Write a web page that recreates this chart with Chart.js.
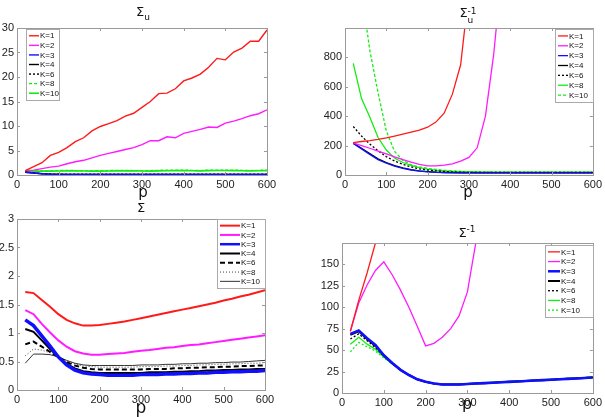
<!DOCTYPE html>
<html>
<head>
<meta charset="utf-8">
<script src="https://cdn.jsdelivr.net/npm/chart.js@4/dist/chart.umd.min.js"></script>
<style>
  body { margin: 0; background: #fff; width: 605px; height: 417px; overflow: hidden; position: relative; font-family: "Liberation Sans", Arial, sans-serif; }
  canvas { position: absolute; }
  .t { position: absolute; font-family: "DejaVu Sans", sans-serif; color: #111; transform: translateX(-50%); white-space: nowrap; line-height: 1; }
  .t sub, .t sup { font-size: 9px; }
  .stk { display: inline-block; vertical-align: -6px; font-size: 9px; line-height: 9px; text-align: left; }
</style>
</head>
<body>
<canvas id="c1" width="300" height="200" style="left:0;top:0"></canvas>
<canvas id="c2" width="305" height="200" style="left:300px;top:0"></canvas>
<canvas id="c3" width="300" height="217" style="left:0;top:200px"></canvas>
<canvas id="c4" width="305" height="217" style="left:300px;top:200px"></canvas>

<div class="t" style="left:143px;top:5px;font-size:13px">Σ<sub>u</sub></div>
<div class="t" style="left:143px;top:185px;font-size:15px">p</div>
<div class="t" style="left:468px;top:6px;font-size:13px">Σ<span class="stk">-1<br>u</span></div>
<div class="t" style="left:468px;top:185px;font-size:15px">p</div>
<div class="t" style="left:141px;top:201px;font-size:13px">Σ</div>
<div class="t" style="left:141px;top:399px;font-size:17px">p</div>
<div class="t" style="left:467px;top:225px;font-size:13px">Σ<sup>-1</sup></div>
<div class="t" style="left:467px;top:396px;font-size:16px">p</div>

<script>
const p = [20,40,60,80,100,120,140,160,180,200,220,240,260,280,300,320,340,360,380,400,420,440,460,480,500,520,540,560,580,600];
const kLabels = ['K=1','K=2','K=3','K=4','K=6','K=8','K=10'];
const xTicks = [0,100,200,300,400,500,600];

// Sigma_u
const su1 = [0.9,1.7,2.5,4.0,4.6,5.6,6.8,7.6,9.0,9.9,10.5,11.1,12.0,12.6,13.8,15.0,16.6,16.7,17.6,19.2,19.8,20.6,22.0,23.8,23.5,25.1,25.9,27.3,27.3,29.6];
const su2 = [0.9,1.0,1.3,1.6,1.8,2.3,2.7,3.0,3.5,4.0,4.4,4.8,5.2,5.6,6.2,7.0,7.0,7.8,7.6,8.5,8.9,9.3,9.8,9.7,10.6,11.0,11.5,12.1,12.5,13.3];
const su3 = [0.55,0.4,0.25,0.15,0.12,0.1,0.1,0.1,0.1,0.1,0.1,0.1,0.1,0.1,0.1,0.1,0.1,0.1,0.1,0.1,0.1,0.1,0.1,0.1,0.1,0.1,0.1,0.1,0.1,0.1];
const su4 = [0.56,0.42,0.27,0.17,0.14,0.12,0.12,0.12,0.12,0.12,0.12,0.12,0.12,0.12,0.12,0.12,0.12,0.12,0.12,0.12,0.12,0.12,0.12,0.12,0.12,0.12,0.12,0.12,0.12,0.12];
const su6 = [0.6,0.45,0.3,0.2,0.16,0.14,0.14,0.14,0.14,0.14,0.14,0.14,0.14,0.14,0.14,0.14,0.14,0.14,0.14,0.14,0.14,0.14,0.14,0.14,0.14,0.14,0.14,0.14,0.14,0.14];
const su8 = [0.7,0.8,0.85,0.85,0.9,0.95,0.9,0.9,0.88,0.85,0.9,0.95,0.95,0.9,0.9,0.88,0.95,1.0,1.0,0.98,0.95,0.9,1.0,1.0,1.0,0.98,0.95,0.9,0.95,0.98];
const su10 = [0.75,0.78,0.8,0.8,0.82,0.85,0.85,0.82,0.8,0.8,0.82,0.85,0.85,0.85,0.82,0.8,0.85,0.88,0.9,0.9,0.88,0.85,0.9,0.92,0.92,0.9,0.88,0.85,0.88,0.9];
const suTicks = [0,5,10,15,20,25,30];

// Sigma_u inverse
const sui1 = [220,228,234,242,252,265,278,292,305,325,360,420,550,750,1250];
const sui2 = [218,200,182,162,143,123,105,88,72,62,62,67,76,95,120,185,400,820,1400];
const sui3 = [215,178,140,105,80,60,45,34,26,21,18,16,15,15,14,14,14,14,14,14,14,14,14,14,14,14,14,14,14,14];
const sui4 = [217,182,146,110,85,64,48,36,28,23,19,17,16,15,15,15,15,15,15,15,15,15,15,15,15,15,15,15,15,15];
const sui6 = [330,265,210,165,125,95,72,55,42,34,28,24,21,19,18,17,17,17,17,17,17,17,17,17,17,17,17,17,17,17];
const sui8 = [760,520,395,255,170,115,85,65,50,40,33,28,25,23,22,21,20,20,19,19,19,19,19,19,19,19,19,19,19,19];
const sui10 = [1800,1250,850,560,300,160,100,70,55,45,38,32,28,25,23,22,21,20,20,20,20,20,20,20,20,20,20,20,20,20];
const suiTicks = [0,200,400,600,800];

// Sigma
const s1 = [1.72,1.70,1.58,1.46,1.33,1.23,1.17,1.13,1.13,1.14,1.16,1.18,1.20,1.23,1.26,1.29,1.32,1.35,1.38,1.41,1.44,1.47,1.50,1.53,1.57,1.60,1.64,1.67,1.71,1.75];
const s2 = [1.40,1.33,1.16,1.01,0.87,0.76,0.68,0.64,0.62,0.62,0.63,0.64,0.65,0.67,0.69,0.70,0.72,0.74,0.75,0.77,0.79,0.80,0.82,0.84,0.86,0.88,0.90,0.92,0.94,0.96];
const s3 = [1.23,1.13,0.95,0.77,0.58,0.44,0.35,0.30,0.28,0.27,0.26,0.26,0.26,0.26,0.27,0.27,0.27,0.28,0.28,0.29,0.29,0.30,0.30,0.31,0.31,0.32,0.32,0.33,0.33,0.34];
const s4 = [1.07,1.02,0.87,0.72,0.58,0.46,0.38,0.33,0.31,0.30,0.30,0.30,0.30,0.30,0.30,0.31,0.31,0.31,0.32,0.32,0.33,0.33,0.34,0.34,0.35,0.35,0.36,0.36,0.37,0.37];
const s6 = [0.80,0.85,0.76,0.67,0.58,0.49,0.43,0.39,0.37,0.36,0.36,0.36,0.36,0.36,0.36,0.37,0.37,0.37,0.38,0.38,0.39,0.39,0.40,0.40,0.41,0.41,0.42,0.42,0.43,0.43];
const s8 = [0.60,0.72,0.70,0.65,0.58,0.51,0.46,0.42,0.41,0.40,0.40,0.40,0.40,0.40,0.41,0.41,0.41,0.42,0.42,0.43,0.43,0.44,0.44,0.45,0.45,0.46,0.46,0.47,0.47,0.48];
const s10 = [0.47,0.63,0.63,0.62,0.58,0.52,0.47,0.44,0.43,0.43,0.43,0.43,0.43,0.43,0.44,0.44,0.44,0.45,0.45,0.46,0.46,0.47,0.47,0.48,0.48,0.49,0.49,0.50,0.51,0.52];
const sTicks = [0,0.5,1,1.5,2,2.5,3];

// Sigma inverse
const si1 = [72,108,140,175,210];
const si2 = [72,105,126,143,153,138,120,100,78,55,58,65,75,90,118,175,260];
const si3 = [69,73,64,56,44,35,27,21,16,13,11,10,10,10,10.5,11,11.5,12,12.5,13,13.5,14,14.5,15,15.5,16,16.5,17,17.5,18];
const si4 = [68,72,63,55,44,35,27,21,16,13,11,10,10,10,10.5,11,11.5,12,12.5,13,13.5,14,14.5,15,15.5,16,16.5,17,17.5,18];
const si6 = [63,69,61,53,43,34,27,21,16,13,11,10,10,10,10.5,11,11.5,12,12.5,13,13.5,14,14.5,15,15.5,16,16.5,17,17.5,18];
const si8 = [57,65,57,51,42,34,27,21,16,13,11,10,10,10,11,11.5,12,12.5,13,13.5,14,14.5,15,15.5,16,16.5,17,17.5,18,19];
const si10 = [48,59,54,49,41,34,27,21,16,13,11,10,10,10,11,11.5,12,12.5,13,13.5,14,14.5,15,15.5,16,16.5,17,17.5,18,19];
const siTicks = [0,25,50,75,100,125,150];

const RED = '#ff1a1a', MAG = '#ff1aff', BLUE = '#1010ff', BLK = '#000', GRN = '#11ee11';

// box around the plot with small inward ticks
const boxPlugin = {
  id: 'box',
  afterDatasetsDraw(chart) {
    const { ctx, chartArea: a, scales } = chart;
    ctx.save();
    ctx.strokeStyle = '#9a9a9a';
    ctx.lineWidth = 1;
    ctx.strokeRect(Math.round(a.left) + 0.5, Math.round(a.top) + 0.5, Math.round(a.right - a.left), Math.round(a.bottom - a.top));
    ctx.beginPath();
    scales.x.ticks.forEach(t => {
      const x = Math.round(scales.x.getPixelForValue(t.value)) + 0.5;
      ctx.moveTo(x, a.bottom); ctx.lineTo(x, a.bottom - 3);
      ctx.moveTo(x, a.top); ctx.lineTo(x, a.top + 3);
    });
    scales.y.ticks.forEach(t => {
      const y = Math.round(scales.y.getPixelForValue(t.value)) + 0.5;
      ctx.moveTo(a.left, y); ctx.lineTo(a.left + 3, y);
      ctx.moveTo(a.right, y); ctx.lineTo(a.right - 3, y);
    });
    ctx.stroke();
    ctx.restore();
  }
};

// legend drawn inside the plot, like matlab
const inLegend = {
  id: 'inLegend',
  afterDatasetsDraw(chart, args, o) {
    const { ctx, chartArea: a } = chart;
    const x0 = Math.round(o.side === 'left' ? a.left + o.dx : a.right - o.w - o.dx);
    const y0 = Math.round(a.top + o.dy);
    ctx.save();
    ctx.fillStyle = '#fff';
    ctx.fillRect(x0, y0, o.w, o.h);
    ctx.strokeStyle = '#aaa';
    ctx.lineWidth = 1;
    ctx.strokeRect(x0 + 0.5, y0 + 0.5, o.w, o.h);
    const ds = chart.data.datasets;
    const step = (o.h - 4) / ds.length;
    ds.forEach((d, i) => {
      const y = y0 + 2 + step * (i + 0.5);
      ctx.strokeStyle = d.borderColor;
      ctx.lineWidth = Math.min(d.borderWidth, 2.5);
      ctx.setLineDash(d.borderDash || []);
      ctx.beginPath();
      ctx.moveTo(x0 + 3, y);
      ctx.lineTo(x0 + 3 + o.sample, y);
      ctx.stroke();
      ctx.setLineDash([]);
      ctx.fillStyle = '#111';
      ctx.font = o.font;
      ctx.textBaseline = 'middle';
      ctx.fillText(d.label, x0 + 4 + o.sample, y + 0.5);
    });
    ctx.restore();
  }
};

function pts(vals) {
  return vals.map((v, i) => ({ x: p[i], y: v }));
}

function makeChart(id, series, styles, opt) {
  const datasets = series.map((vals, i) => Object.assign({
    label: kLabels[i],
    data: pts(vals),
    pointRadius: 0,
    tension: 0,
    fill: false
  }, styles[i]));
  return new Chart(document.getElementById(id), {
    type: 'line',
    data: { datasets },
    plugins: [boxPlugin, inLegend],
    options: {
      responsive: false,
      animation: false,
      layout: { padding: { top: opt.top, right: opt.right, left: 0, bottom: 0 } },
      plugins: { legend: { display: false }, tooltip: { enabled: false }, inLegend: opt.legend },
      scales: {
        x: {
          type: 'linear', min: 0, max: 600,
          afterBuildTicks: ax => { ax.ticks = xTicks.map(v => ({ value: v })); },
          afterFit: s => { s.height = opt.xH; },
          grid: { display: false, drawTicks: false },
          border: { display: false },
          ticks: { color: '#222', font: { family: 'Liberation Sans', size: 11 }, padding: 3, maxRotation: 0,
                   callback: v => String(v) }
        },
        y: {
          type: 'linear', min: 0, max: opt.yMax,
          afterBuildTicks: ax => { ax.ticks = opt.yTicks.map(v => ({ value: v })); },
          afterFit: s => { s.width = opt.yW; },
          grid: { display: false, drawTicks: false },
          border: { display: false },
          ticks: { color: '#222', font: { family: 'Liberation Sans', size: 11 }, padding: 3,
                   callback: v => String(v) }
        }
      }
    }
  });
}

const thin = w => [
  { borderColor: RED, borderWidth: w },
  { borderColor: MAG, borderWidth: w },
  { borderColor: BLUE, borderWidth: w },
  { borderColor: BLK, borderWidth: w },
  { borderColor: BLK, borderWidth: w, borderDash: [2, 2] },
  { borderColor: GRN, borderWidth: w },
  { borderColor: GRN, borderWidth: w, borderDash: [3, 2] }
];

makeChart('c1', [su1, su2, su3, su4, su6, su8, su10], [
  { borderColor: RED, borderWidth: 1.4 },
  { borderColor: MAG, borderWidth: 1.4 },
  { borderColor: BLUE, borderWidth: 1.4 },
  { borderColor: BLK, borderWidth: 1.4 },
  { borderColor: BLK, borderWidth: 1.4, borderDash: [2, 2] },
  { borderColor: GRN, borderWidth: 1.4, borderDash: [3, 2] },
  { borderColor: GRN, borderWidth: 1.6 }
], { top: 28, right: 33, yW: 17, xH: 25, yMax: 30, yTicks: suTicks,
     legend: { side: 'left', dx: 9, dy: 1, w: 33, h: 71, sample: 10, font: '8px "Liberation Sans"' } });

makeChart('c2', [sui1, sui2, sui3, sui4, sui6, sui8, sui10], thin(1.3),
  { top: 28, right: 12, yW: 45, xH: 25, yMax: 1000, yTicks: suiTicks,
    legend: { side: 'right', dx: 0, dy: 1, w: 38, h: 73, sample: 10, font: '8px "Liberation Sans"' } });

makeChart('c3', [s1, s2, s3, s4, s6, s8, s10], [
  { borderColor: RED, borderWidth: 2 },
  { borderColor: MAG, borderWidth: 2 },
  { borderColor: BLUE, borderWidth: 3.5 },
  { borderColor: BLK, borderWidth: 2 },
  { borderColor: BLK, borderWidth: 2, borderDash: [5, 3] },
  { borderColor: '#444', borderWidth: 1, borderDash: [1, 2] },
  { borderColor: '#333', borderWidth: 1 }
], { top: 19, right: 35, yW: 17, xH: 27, yMax: 3, yTicks: sTicks,
     legend: { side: 'right', dx: 0, dy: 0, w: 48, h: 69, sample: 20, font: '8px "Liberation Sans"' } });

makeChart('c4', [si1, si2, si3, si4, si6, si8, si10], [
  { borderColor: RED, borderWidth: 1.3 },
  { borderColor: MAG, borderWidth: 1.3 },
  { borderColor: BLUE, borderWidth: 2.6 },
  { borderColor: BLK, borderWidth: 2 },
  { borderColor: BLK, borderWidth: 1.3, borderDash: [2, 2] },
  { borderColor: GRN, borderWidth: 1.3 },
  { borderColor: GRN, borderWidth: 1.3, borderDash: [2, 2] }
], { top: 43, right: 12, yW: 42, xH: 24, yMax: 175, yTicks: siTicks,
     legend: { side: 'right', dx: 0, dy: 2, w: 48, h: 72, sample: 12, font: '8px "Liberation Sans"' } });
</script>
</body>
</html>
